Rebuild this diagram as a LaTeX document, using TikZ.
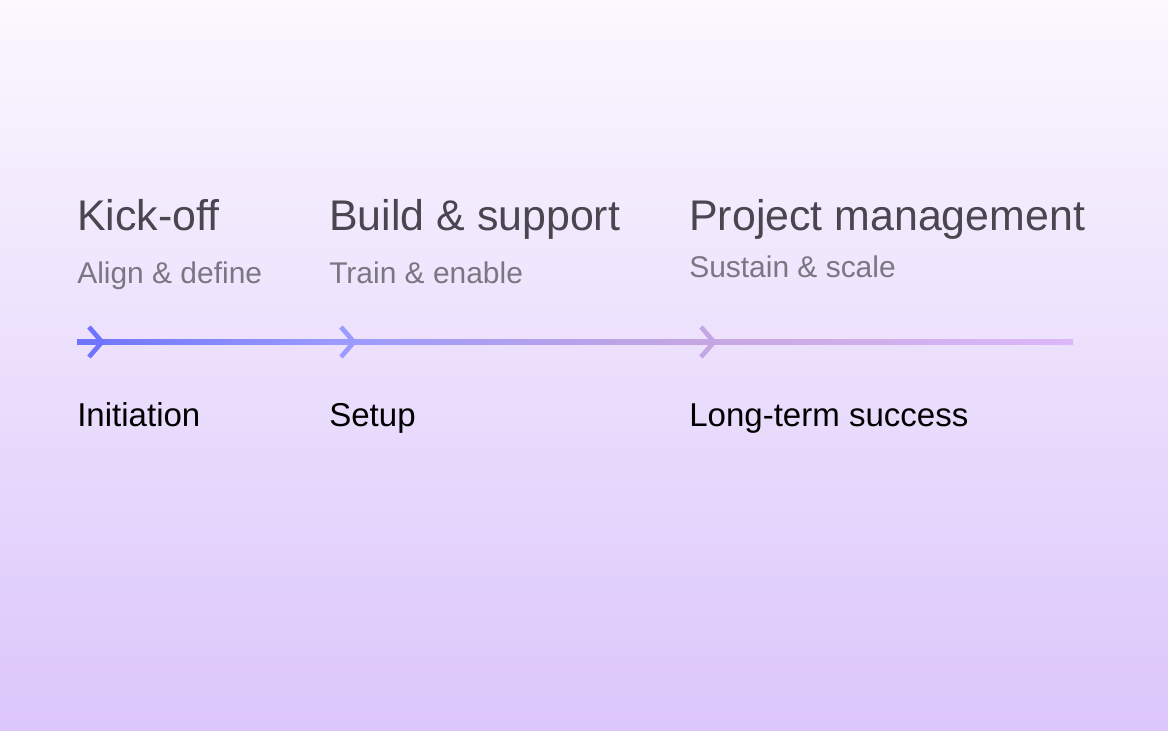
\documentclass[tikz,border=0pt]{standalone}
\usepackage{fontspec}
\setmainfont{Liberation Sans}
\usetikzlibrary{positioning}
\definecolor{bgtop}{HTML}{FBF8FE}
\definecolor{bgbot}{HTML}{DCC6FB}
\definecolor{titlegray}{HTML}{4A4650}
\definecolor{subgray}{HTML}{7A7682}
\definecolor{lineA}{HTML}{6E74FF}
\definecolor{lineB}{HTML}{9A9AFF}
\definecolor{lineC}{HTML}{C4A6E2}
\definecolor{lineD}{HTML}{DDB8F8}
\begin{document}
\begin{tikzpicture}[x=0.025cm,y=-0.025cm]
\tikzset{every node/.style={inner sep=0pt, anchor=base west}}
\tikzset{phase/.style={font=\fontsize{30.5}{34}\selectfont, text=titlegray}}
\tikzset{goal/.style={font=\fontsize{21.3}{25}\selectfont, text=subgray}}
\tikzset{stage/.style={font=\fontsize{23.5}{27}\selectfont, text=black}}
\tikzset{chev/.style={line width=3.3pt}}

\shade[top color=bgtop, bottom color=bgbot] (0,0) rectangle (1168,730);

\node[phase] (P1) at (77,230) {Kick-off};
\node[phase] (P2) at (329,230) {Build \& support};
\node[phase] (P3) at (689,230) {Project management};
\node[goal] (G1) at (77,283) {Align \& define};
\node[goal] (G2) at (329,283) {Train \& enable};
\node[goal] (G3) at (689,277) {Sustain \& scale};
\node[stage] (S1) at (77,426) {Initiation};
\node[stage] (S2) at (329,426) {Setup};
\node[stage] (S3) at (689,426) {Long-term success};

\coordinate (L0) at (77,342);
\coordinate (L1) at (329,342);
\coordinate (L2) at (689,342);
\coordinate (L3) at (1073,342);

% timeline
\shade[left color=lineA, right color=lineB] (L0)++(0,-2.5) rectangle ([yshift=-0.0625cm]L1);
\shade[left color=lineB, right color=lineC] (L1)++(0,-2.5) rectangle ([yshift=-0.0625cm]L2);
\shade[left color=lineC, right color=lineD] (L2)++(0,-2.5) rectangle ([yshift=-0.0625cm]L3);

\draw[chev, lineA] ([xshift=0.3cm]L0)++(0,-15) -- ++(13,15) -- ++(-13,15);
\draw[chev, lineB] ([xshift=0.3cm]L1)++(0,-15) -- ++(13,15) -- ++(-13,15);
\draw[chev, lineC] ([xshift=0.3cm]L2)++(0,-15) -- ++(13,15) -- ++(-13,15);
\end{tikzpicture}
\end{document}
